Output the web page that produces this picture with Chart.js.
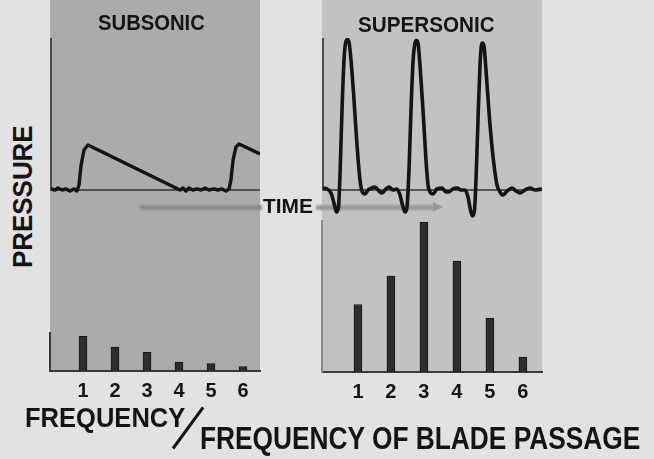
<!DOCTYPE html>
<html>
<head>
<meta charset="utf-8">
<script src="https://cdn.jsdelivr.net/npm/chart.js@4.4.1/dist/chart.umd.min.js"></script>
<style>
  html, body { margin: 0; padding: 0; }
  body {
    width: 654px; height: 459px; position: relative; overflow: hidden;
    background: #e2e2e2; color: #141414;
    font-family: 'Liberation Sans', Arial, sans-serif;
  }
  .panel { position: absolute; }
  #leftPanel { left: 50px; top: 0; width: 210px; height: 371px; background: #ababab; }
  #rightPanel { left: 322px; top: 0; width: 220px; height: 373px; background: #c2c2c2; }
  canvas { position: absolute; }
  .lbl { position: absolute; white-space: nowrap; font-weight: bold; line-height: 1; transform-origin: 0 0; }
  .arrow { position: absolute; height: 5px; background: #8c8c8c; filter: blur(0.8px); }
  #arrowHead {
    position: absolute; left: 433px; top: 202px; width: 0; height: 0;
    border-left: 10px solid #9a9a9a; border-top: 5px solid transparent; border-bottom: 5px solid transparent;
    filter: blur(0.6px);
  }
  #slash { position: absolute; left: 173px; top: 447px; width: 51px; height: 3px; background: #141414; transform-origin: 0 50%; transform: rotate(-53.8deg); }
</style>
</head>
<body>
<div id="leftPanel" class="panel"></div>
<div id="rightPanel" class="panel"></div>
<div class="arrow" style="left:140px;top:205px;width:122px;"></div>
<div class="arrow" style="left:316px;top:205px;width:118px;background:#9a9a9a;"></div>
<div id="arrowHead"></div>
<div id="slash"></div>

<canvas id="subWave" width="217" height="198" style="left:47px;top:34px"></canvas>
<canvas id="superWave" width="227" height="198" style="left:319px;top:34px"></canvas>
<canvas id="subBars" width="214" height="80" style="left:48px;top:331px"></canvas>
<canvas id="superBars" width="224" height="193" style="left:320px;top:219px"></canvas>

<script>
// harmonics (frequency / frequency of blade passage)
const harmonics = [1, 2, 3, 4, 5, 6];
const subsonicAmp = [23, 16, 12.5, 6, 5, 3];
const supersonicAmp = [45, 64, 100, 74, 36, 10];

// pressure traces, time in % of window
const subTime = [0, 1.9, 3.3, 5.3, 7.2, 9.1, 11, 12.4, 13.4, 14.4, 15.8, 17.7, 61.7, 63.2, 64.6, 66, 67.9, 69.9, 71.8, 73.7, 75.6, 78, 79.9, 81.8, 83.7, 85.2, 86.1, 87.1, 88.5, 90, 100];
const subPressure = [0.7, 0, 1.3, 0, 0.7, -0.7, 0.7, -0.7, 3.3, 16.4, 26.3, 29.6, 0, 1.3, -0.7, 1.3, 0, 0.7, 0, 1.3, 0, 0.7, 0, 0.7, -0.7, 0.7, 6.6, 19.7, 28.3, 30.3, 23.7];

const superTime = [0, 1.83, 3.65, 5.02, 6.16, 7.08, 7.76, 8.68, 9.59, 10.5, 11.19, 11.87, 12.79, 14.16, 15.53, 16.89, 17.81, 19.18, 20.55, 21.92, 23.74, 25.57, 26.94, 28.77, 30.14, 31.96, 33.79, 35.16, 36.3, 37.44, 38.36, 39.27, 40.18, 41.1, 42.01, 42.69, 43.38, 44.29, 45.66, 47.03, 47.95, 48.86, 50.23, 52.05, 54.34, 56.16, 57.53, 59.36, 61.19, 63.01, 64.84, 66.21, 67.35, 68.26, 69.18, 69.86, 70.78, 71.69, 72.37, 72.83, 73.52, 74.43, 76.26, 78.08, 79.45, 80.82, 82.19, 84.02, 86.3, 88.13, 89.95, 92.24, 94.52, 96.8, 100];
const superPressure = [1.3, 0.7, -2, -8.6, -14.5, -11.2, 9.9, 52.6, 85.5, 98, 99, 97.4, 85.5, 59.2, 29.6, 6.6, -0.7, -2.6, 0, 1, 2, -0.7, -2, 0.7, 2, 0, 0.7, -3.3, -9.9, -14.5, -11.2, 13.2, 52.6, 84.2, 96.7, 98.4, 96.7, 82.2, 52.6, 19.7, 3.3, -1.3, -2.6, 0.7, 1.3, -1.3, -1.3, 0.7, 1.3, 0, 0, -4.6, -13.2, -17.1, -13.2, 6.6, 46.1, 82.2, 95.4, 96.7, 94.7, 78.9, 42.8, 16.4, 3.3, -1.3, -3.3, -0.7, 1.3, -0.7, -2, 0, 1.3, 0, 0.7];

const font = 'Liberation Sans';

// draws the vertical pressure axis and the zero line under the trace
const frame = {
  id: 'frame',
  beforeDatasetsDraw(chart) {
    const { ctx, scales: { x, y } } = chart;
    const x0 = x.getPixelForValue(x.min), x1 = x.getPixelForValue(x.max);
    const yTop = y.getPixelForValue(y.max), yZero = y.getPixelForValue(0);
    ctx.save();
    ctx.strokeStyle = '#333';
    ctx.lineWidth = 1.6;
    ctx.beginPath();
    ctx.moveTo(x0, yTop);
    ctx.lineTo(x0, yZero);
    ctx.lineTo(x1, yZero);
    ctx.stroke();
    ctx.restore();
  }
};

function waveChart(id, times, pressures, width, smooth) {
  return new Chart(document.getElementById(id), {
    type: 'line',
    data: {
      datasets: [{
        data: times.map((t, i) => ({ x: t, y: pressures[i] })),
        borderColor: '#141414',
        borderWidth: width,
        pointRadius: 0,
        cubicInterpolationMode: smooth ? 'monotone' : 'default',
        tension: 0,
        borderJoinStyle: 'round',
        fill: false
      }]
    },
    options: {
      responsive: false,
      animation: false,
      devicePixelRatio: 1,
      layout: { padding: 4 },
      plugins: { legend: { display: false }, tooltip: { enabled: false } },
      scales: {
        x: { type: 'linear', display: false, min: 0, max: 100 },
        y: { display: false, min: -25, max: 100 }
      }
    },
    plugins: [frame]
  });
}

function barChart(id, amps, xMin, xMax, yMax, axisColor) {
  return new Chart(document.getElementById(id), {
    type: 'bar',
    data: {
      datasets: [{
        data: harmonics.map((h, i) => ({ x: h, y: amps[i] })),
        backgroundColor: '#2e2e2e',
        borderColor: '#161616',
        borderWidth: 1,
        barThickness: 8
      }]
    },
    options: {
      responsive: false,
      animation: false,
      devicePixelRatio: 1,
      layout: { padding: { left: 2, right: 2, top: 2, bottom: 0 } },
      plugins: { legend: { display: false }, tooltip: { enabled: false } },
      scales: {
        x: {
          type: 'linear', min: xMin, max: xMax, offset: false,
          grid: { display: false, drawTicks: false, offset: false },
          border: { display: true, color: '#3a3a3a', width: 2 },
          afterBuildTicks: s => { s.ticks = harmonics.map(v => ({ value: v })); },
          afterFit: s => { s.height = 40; },
          ticks: {
            color: '#141414', padding: 8, autoSkip: false, maxRotation: 0,
            font: { family: font, size: 20, weight: 'bold' },
            callback: v => String(v)
          }
        },
        y: {
          min: 0, max: yMax,
          grid: { display: false, drawTicks: false },
          ticks: { display: false },
          border: { display: true, color: axisColor, width: 2 }
        }
      }
    }
  });
}

// text helper: size by cap height, stretch to the measured width
function placeLabel(text, x, capTop, w, capH, rotate) {
  const el = document.createElement('div');
  el.className = 'lbl';
  el.textContent = text;
  const fs = capH / 0.716;
  el.style.fontSize = fs + 'px';
  document.body.appendChild(el);
  const sx = w / el.offsetWidth;
  if (rotate) {
    el.style.left = (x - 0.1305 * fs) + 'px';
    el.style.top = capTop + 'px';
    el.style.transform = `rotate(-90deg) scaleX(${sx})`;
  } else {
    el.style.left = x + 'px';
    el.style.top = (capTop - 0.1305 * fs) + 'px';
    el.style.transform = `scaleX(${sx})`;
  }
  return el;
}

waveChart('subWave', subTime, subPressure, 3.4, false);
waveChart('superWave', superTime, superPressure, 3.6, true);
barChart('subBars', subsonicAmp, -0.03, 6.53, 25.3, '#3a3a3a');
barChart('superBars', supersonicAmp, -0.09, 6.58, 100.7, '#8a8a8a');

placeLabel('SUBSONIC', 98, 15, 107, 16);
placeLabel('SUPERSONIC', 358, 17, 137, 16);
placeLabel('TIME', 263, 199, 50, 15);
placeLabel('PRESSURE', 13, 268, 143, 20, true);
placeLabel('FREQUENCY', 25, 408, 160, 20);
placeLabel('FREQUENCY OF BLADE PASSAGE', 200, 428, 440, 22);
</script>
</body>
</html>
